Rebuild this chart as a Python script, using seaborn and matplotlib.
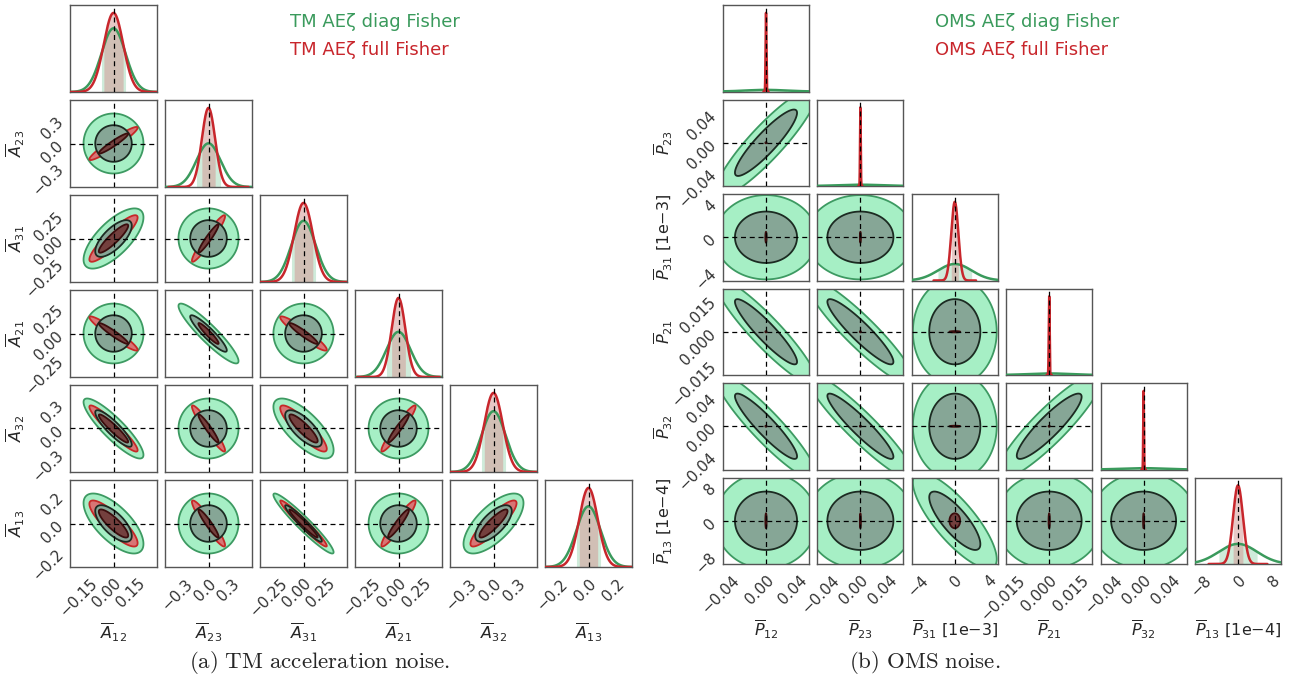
import math
import numpy as np
import pandas as pd
import matplotlib
matplotlib.use("Agg")
import matplotlib.pyplot as plt
import seaborn as sns

# ---------------- dados ----------------
# (a) TM acceleration noise
tm_nomes = [r"$\overline{A}_{12}$", r"$\overline{A}_{23}$", r"$\overline{A}_{31}$",
            r"$\overline{A}_{21}$", r"$\overline{A}_{32}$", r"$\overline{A}_{13}$"]
tm_sigma_diag = [0.077, 0.154, 0.128, 0.119, 0.147, 0.086]
tm_sigma_full = [0.062, 0.085, 0.099, 0.068, 0.113, 0.066]
# correlações (triângulo inferior, linha i tem i valores)
tm_rho_diag = [[0.0],
               [0.70, 0.0],
               [0.0, -0.92, 0.0],
               [-0.88, 0.0, -0.72, 0.0],
               [-0.68, 0.0, -0.955, 0.0, 0.68]]
tm_rho_full = [[0.95],
               [0.90, 0.95],
               [-0.95, -0.94, -0.94],
               [-0.94, -0.95, -0.88, 0.95],
               [-0.85, -0.94, -0.97, 0.94, 0.88]]
tm_limites = [0.278, 0.555, 0.46, 0.43, 0.53, 0.31]
tm_ticks = [[-0.15, 0, 0.15], [-0.3, 0, 0.3], [-0.25, 0, 0.25],
            [-0.25, 0, 0.25], [-0.3, 0, 0.3], [-0.2, 0, 0.2]]
tm_ticklabels = [["−0.15", "0.00", "0.15"], ["−0.3", "0.0", "0.3"], ["−0.25", "0.00", "0.25"],
                 ["−0.25", "0.00", "0.25"], ["−0.3", "0.0", "0.3"], ["−0.2", "0.0", "0.2"]]

# (b) OMS noise  (P31 em unidades de 1e-3, P13 em 1e-4)
oms_nomes = [r"$\overline{P}_{12}$", r"$\overline{P}_{23}$", r"$\overline{P}_{31}$ [1e−3]",
             r"$\overline{P}_{21}$", r"$\overline{P}_{32}$", r"$\overline{P}_{13}$ [1e−4]"]
oms_sigma_diag = [0.0243, 0.0304, 2.0, 0.0101, 0.0299, 4.5]
oms_sigma_full = [0.0005, 0.0005, 0.42, 0.0002, 0.0005, 1.15]
oms_rho_diag = [[0.90],
                [0.0, 0.0],
                [-0.92, -0.92, 0.0],
                [-0.92, -0.93, 0.0, 0.90],
                [0.0, 0.0, -0.80, 0.0, 0.0]]
oms_rho_full = [[0.0],
                [0.0, 0.0],
                [0.0, 0.0, 0.0],
                [0.0, 0.0, 0.0, 0.0],
                [0.0, 0.0, 0.0, 0.0, 0.0]]
oms_limites = [0.051, 0.060, 5.1, 0.0203, 0.060, 10.1]
oms_ticks = [[-0.04, 0, 0.04], [-0.04, 0, 0.04], [-4, 0, 4],
             [-0.015, 0, 0.015], [-0.04, 0, 0.04], [-8, 0, 8]]
oms_ticklabels = [["−0.04", "0.00", "0.04"], ["−0.04", "0.00", "0.04"], ["−4", "0", "4"],
                  ["−0.015", "0.000", "0.015"], ["−0.04", "0.00", "0.04"], ["−8", "0", "8"]]

legendas_tm = ["TM AEζ diag Fisher", "TM AEζ full Fisher"]
legendas_oms = ["OMS AEζ diag Fisher", "OMS AEζ full Fisher"]
legendas_fig = ["(a) TM acceleration noise.", "(b) OMS noise."]

# ---------------- estilo ----------------
sns.set_style("white")
plt.rcParams["font.family"] = ["DejaVu Sans"]

VERDE = "#3a9a5c"
VERMELHO = "#c8262c"
cores = {
    "diag": dict(linha=VERDE, fora=("#a6efc5", "#3d9a62"), dentro=("#86a696", "#1c2b22"),
                 sombra="#a9dcbc"),
    "full": dict(linha=VERMELHO, fora=("#d87575", "#c62828"), dentro=("#74403e", "#3b0d0d"),
                 sombra="#d49c98"),
}

W, H = 1304, 681
R1 = math.sqrt(-2 * math.log(1 - math.erf(1 / math.sqrt(2))))
R2 = math.sqrt(-2 * math.log(1 - math.erf(2 / math.sqrt(2))))

fig = plt.figure(figsize=(W / 100, H / 100), dpi=100)


def elipse(sx, sy, rho, r, n=240):
    t = np.linspace(0, 2 * np.pi, n)
    cov = np.array([[sx * sx, rho * sx * sy], [rho * sx * sy, sy * sy]])
    L = np.linalg.cholesky(cov)
    pts = L @ np.vstack([np.cos(t), np.sin(t)]) * r
    return pts[0], pts[1]


def desenha_2d(ax, sx, sy, rho, c):
    for r, (fc, ec), z in ((R2, c["fora"], 1), (R1, c["dentro"], 2)):
        x, y = elipse(sx, sy, rho, r)
        ax.fill(x, y, facecolor=fc, edgecolor=ec, lw=1.3, zorder=z)


def desenha_1d(ax, sig, lim, c):
    x = np.linspace(max(-6 * sig, -lim), min(6 * sig, lim), 800)
    pdf = np.exp(-0.5 * (x / sig) ** 2) / (sig * math.sqrt(2 * math.pi))
    df = pd.DataFrame({"x": x, "pdf": pdf})
    m = np.abs(x) <= sig
    ax.fill_between(x[m], 0, pdf[m], color=c["sombra"], alpha=0.55, lw=0, zorder=1)
    sns.lineplot(data=df, x="x", y="pdf", color=c["linha"], lw=1.8, ax=ax, zorder=3)
    return pdf.max()


def canto(x0, y0, px, py, w, h, nomes, sd, sf, rd, rf, lims, ticks, tlabels, ylab_x):
    n = len(nomes)
    for i in range(n):
        for j in range(i + 1):
            ax = fig.add_axes([(x0 + j * px) / W, 1 - (y0 + i * py + h) / H, w / W, h / H])
            if i == j:
                p1 = desenha_1d(ax, sd[i], lims[i], cores["diag"])
                p2 = desenha_1d(ax, sf[i], lims[i], cores["full"])
                ax.set_ylim(0, 1.1 * max(p1, p2))
            else:
                desenha_2d(ax, sd[j], sd[i], rd[i - 1][j], cores["diag"])
                desenha_2d(ax, sf[j], sf[i], rf[i - 1][j], cores["full"])
                ax.set_ylim(-lims[i], lims[i])
                ax.axhline(0, color="k", ls=(0, (4, 3)), lw=0.9, zorder=5)
            ax.axvline(0, color="k", ls=(0, (4, 3)), lw=0.9, zorder=5)
            ax.set_xlim(-lims[j], lims[j])
            ax.set_xlabel("")
            ax.set_ylabel("")
            for s in ax.spines.values():
                s.set_color("#555555")
                s.set_linewidth(1.0)
            ax.tick_params(direction="out", length=3, width=0.8, colors="#333333",
                           labelsize=11)
            if i == n - 1:
                ax.set_xticks(ticks[j])
                ax.set_xticklabels(tlabels[j], rotation=45, ha="right", va="top",
                                   rotation_mode="anchor")
                ax.set_xlabel(nomes[j], fontsize=11.5)
                ax.xaxis.set_label_coords(0.5, -0.63)
            else:
                ax.set_xticks([])
            if j == 0 and i > 0:
                ax.set_yticks(ticks[i])
                ax.set_yticklabels(tlabels[i], rotation=45, ha="right", va="center",
                                   rotation_mode="anchor")
                ax.set_ylabel(nomes[i], fontsize=11.5)
                ax.yaxis.set_label_coords(ylab_x, 0.5)
            else:
                ax.set_yticks([])


canto(70, 5, 95, 95, 87, 87, tm_nomes, tm_sigma_diag, tm_sigma_full,
      tm_rho_diag, tm_rho_full, tm_limites, tm_ticks, tm_ticklabels, -0.49)
canto(723, 5, 94.4, 94.5, 86, 86.5, oms_nomes, oms_sigma_diag, oms_sigma_full,
      oms_rho_diag, oms_rho_full, oms_limites, oms_ticks, oms_ticklabels, -0.56)

for x, textos in ((290, legendas_tm), (935, legendas_oms)):
    fig.text(x / W, 1 - 22 / H, textos[0], color=VERDE, fontsize=13, va="center")
    fig.text(x / W, 1 - 50 / H, textos[1], color=VERMELHO, fontsize=13, va="center")

for x, txt in ((320, legendas_fig[0]), (925, legendas_fig[1])):
    fig.text(x / W, 1 - 662 / H, r"$\mathrm{" + txt.replace(" ", r"\ ") + "}$",
             math_fontfamily="cm", fontsize=16.5, ha="center", va="center")

fig.savefig("out.png", dpi=100)
